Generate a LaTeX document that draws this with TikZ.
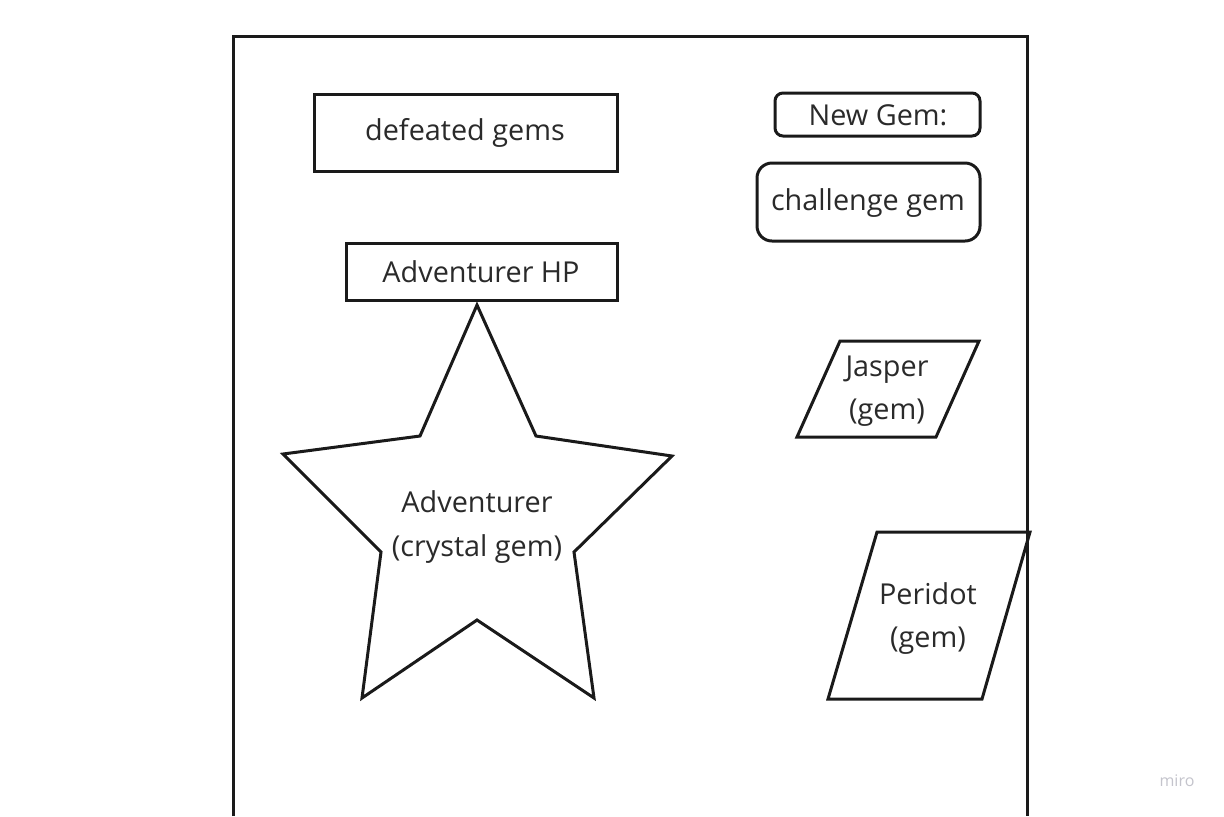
\documentclass[tikz,border=0pt]{standalone}
\usepackage{fontspec}
\setmainfont{Open Sans}
\usepackage{tikz}
\usetikzlibrary{positioning}
\definecolor{ink}{HTML}{1A1A1A}
\definecolor{txt}{HTML}{2A2A2A}
\definecolor{miro}{HTML}{C4C4CC}

\begin{document}
\begin{tikzpicture}[x=0.5pt,y=-0.5pt,
  shp/.style={draw=ink,line width=1.5pt,line join=miter},
  lbl/.style={text=txt,font=\fontsize{14.4}{21.5}\selectfont,align=center,inner sep=0pt}]
\useasboundingbox (0,0) rectangle (1224,816);
\fill[white] (0,0) rectangle (1224,816);
\draw[shp] (233,816)--(233,36)--(1027,36)--(1027,816);
\draw[shp] (314,94) rectangle (617,171);
\node[lbl] (defeated) at (465,133) {defeated gems};
\draw[shp] (346,243) rectangle (617,300);
\node[lbl] (hp) at (481,272) {Adventurer HP};
\draw[shp,rounded corners=4pt] (775,93) rectangle (980,136);
\node[lbl] (newgem) at (878,115) {New Gem:};
\draw[shp,rounded corners=7.5pt] (757,163) rectangle (980,241);
\node[lbl] (challenge) at (868,203) {challenge gem};
\draw[shp] (477,305)--(536,436)--(672,456)--(574,552)--(594,698)--(477,620)
  --(362,698)--(381,552)--(283,454)--(420,436)--cycle;
\node[lbl] (adventurer) at (477,527) {Adventurer\\(crystal gem)};
\draw[shp] (840,341)--(979,341)--(936,437)--(797,437)--cycle;
\node[lbl] (jasper) at (887,391) {Jasper\\(gem)};
\draw[shp] (877,532)--(1030,532)--(982,699)--(828,699)--cycle;
\node[lbl] (peridot) at (928,618) {Peridot\\(gem)};
\node[text=miro,font=\fontsize{8}{10}\selectfont,inner sep=0pt] (brand) at (1177,781) {miro};
\end{tikzpicture}
\end{document}
